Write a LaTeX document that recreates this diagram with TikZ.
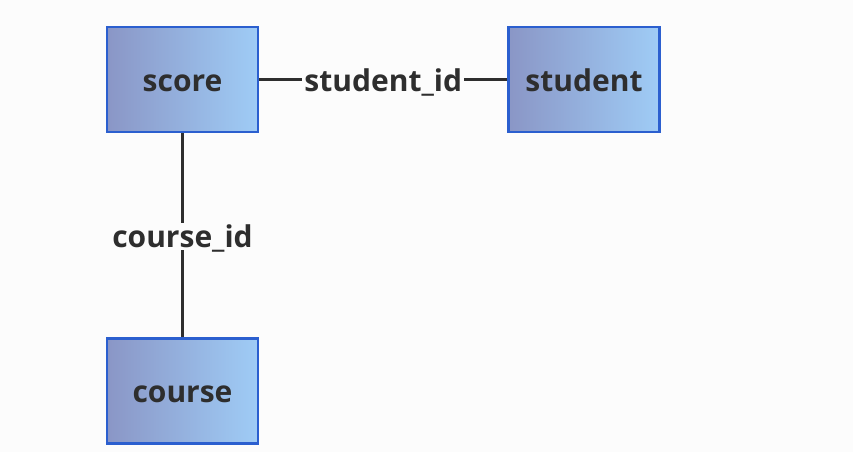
\documentclass[tikz,border=0pt]{standalone}
\usepackage{fontspec}
\setmainfont{Open Sans}
\definecolor{bgc}{HTML}{FCFCFC}
\definecolor{gl}{HTML}{8A96C6}
\definecolor{gr}{HTML}{9FCCF6}
\definecolor{bord}{HTML}{2B5FCF}
\definecolor{txt}{HTML}{2E2E2E}
\begin{document}
\begin{tikzpicture}[x=1pt,y=-1pt,
  tbl/.style={draw=bord,line width=2.2pt,left color=gl,right color=gr,
    minimum width=151pt,minimum height=105pt,inner sep=0pt,
    text height=23pt,text depth=0pt,
    font=\fontsize{30}{34}\selectfont\bfseries,text=txt},
  rel/.style={draw=txt,line width=2.4pt},
  lbl/.style={fill=bgc,inner xsep=2pt,inner ysep=2pt,text height=23pt,text depth=0pt,
    font=\fontsize{30}{34}\selectfont\bfseries,text=txt}]
\fill[bgc] (0,0) rectangle (853,452);
\useasboundingbox (0,0) rectangle (853,452);
\node[tbl] (score) at (182.5,79.5) {score};
\node[tbl] (student) at (584,79.5) {student};
\node[tbl] (course) at (182.5,391) {course};
\draw[rel] (score) -- node[lbl] {student\_id} (student);
\draw[rel] (score) -- node[lbl,pos=0.505] {course\_id} (course);
\end{tikzpicture}
\end{document}
